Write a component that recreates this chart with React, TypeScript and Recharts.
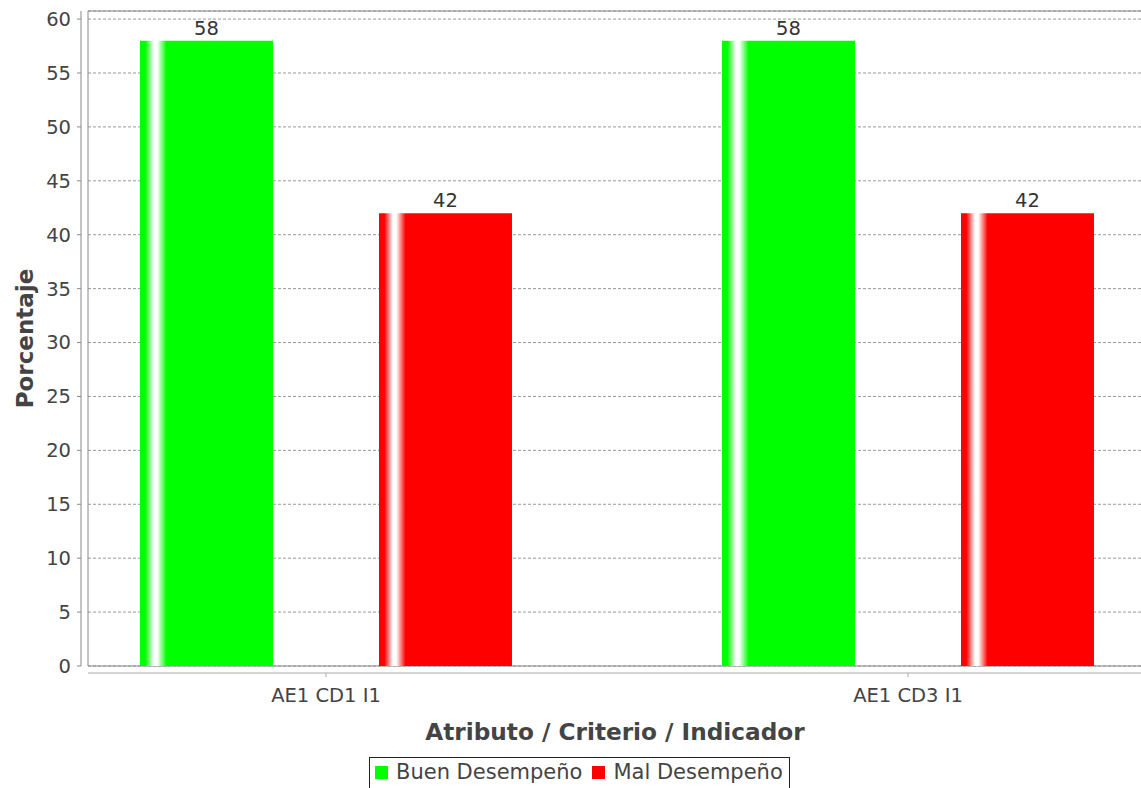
import React from 'react';
import {
  BarChart, Bar, XAxis, YAxis, CartesianGrid, ReferenceArea, LabelList, Legend,
} from 'recharts';

const categories = ['AE1 CD1 I1', 'AE1 CD3 I1'];
const buenDesempeno = [58, 58];
const malDesempeno = [42, 42];
const seriesNames = ['Buen Desempeño', 'Mal Desempeño'];
const seriesColors = ['#00ff00', '#ff0000'];
const yTicks = [0, 5, 10, 15, 20, 25, 30, 35, 40, 45, 50, 55, 60];

const data = categories.map((name, i) => ({
  pos: i,
  name,
  buen: buenDesempeno[i],
  mal: malDesempeno[i],
}));

// categories sit at 0 and 1 on a numeric axis so the outer margins match the original
const X_DOMAIN: [number, number] = [-0.4089, 1.402];
const Y_DOMAIN: [number, number] = [0, 60.75];

const FONT = '"DejaVu Sans", Verdana, sans-serif';
const TEXT = '#444444';

function Gradient({ id, color }: { id: string; color: string }) {
  return (
    <linearGradient id={id} x1="0" y1="0" x2="1" y2="0">
      <stop offset="0" stopColor={color} />
      <stop offset="0.04" stopColor={color} />
      <stop offset="0.105" stopColor="#ffffff" />
      <stop offset="0.13" stopColor="#ffffff" />
      <stop offset="0.2" stopColor={color} />
      <stop offset="1" stopColor={color} />
    </linearGradient>
  );
}

const renderLegend = () => (
  <div
    style={{
      display: 'inline-flex',
      alignItems: 'flex-start',
      border: '1px solid #222',
      height: 34,
      boxSizing: 'border-box',
      padding: '8px 6px 0 5px',
      background: '#fff',
      fontFamily: FONT,
      fontSize: 21,
      color: TEXT,
      whiteSpace: 'nowrap',
    }}
  >
    {seriesNames.map((n, i) => (
      <span key={n} style={{ display: 'inline-flex', alignItems: 'center', height: 13, marginLeft: i ? 10 : 0 }}>
        <span style={{ display: 'inline-block', width: 13, height: 13, background: seriesColors[i], marginRight: 8 }} />
        <span style={{ lineHeight: '13px' }}>{n}</span>
      </span>
    ))}
  </div>
);

export default function App() {
  return (
    <div style={{ width: 1141, height: 788, overflow: 'hidden', fontFamily: FONT, background: '#fff' }}>
      <style>{'body{margin:0}'}</style>
      <BarChart
        width={1145}
        height={788}
        data={data}
        margin={{ top: 11, right: 3, left: 0, bottom: 42 }}
        barSize={133}
        barGap={106}
      >
        <defs>
          <Gradient id="gradBuen" color={seriesColors[0]} />
          <Gradient id="gradMal" color={seriesColors[1]} />
        </defs>
        <CartesianGrid vertical={false} stroke="#999" strokeDasharray="3 2" />
        <ReferenceArea
          x1={X_DOMAIN[0]}
          x2={X_DOMAIN[1]}
          y1={Y_DOMAIN[0]}
          y2={Y_DOMAIN[1]}
          fill="none"
          fillOpacity={0}
          stroke="#888"
          strokeOpacity={1}
        />
        <XAxis
          dataKey="pos"
          type="number"
          domain={X_DOMAIN}
          allowDataOverflow
          ticks={[0, 1]}
          tickFormatter={(v: number) => categories[v] ?? ''}
          height={80}
          tickSize={4}
          tickMargin={18}
          axisLine={{ stroke: '#aaa', transform: 'translate(0,7)' }}
          tickLine={{ stroke: '#aaa', transform: 'translate(0,7)' }}
          tick={{ fill: TEXT, fontSize: 19.5 }}
          label={{
            value: 'Atributo / Criterio / Indicador',
            position: 'insideBottom',
            offset: 6,
            fill: TEXT,
            fontSize: 23.2,
            fontWeight: 'bold',
          }}
        />
        <YAxis
          type="number"
          domain={Y_DOMAIN}
          allowDataOverflow
          ticks={yTicks}
          width={88}
          tickSize={4}
          tickMargin={13}
          axisLine={{ stroke: '#888', transform: 'translate(-7,0)' }}
          tickLine={{ stroke: '#888', transform: 'translate(-7,0)' }}
          tick={{ fill: TEXT, fontSize: 19.5 }}
          label={{
            value: 'Porcentaje',
            angle: -90,
            position: 'insideLeft',
            offset: 25,
            fill: TEXT,
            fontSize: 23,
            fontWeight: 'bold',
            style: { textAnchor: 'middle' },
          }}
        />
        <Legend
          layout="horizontal"
          verticalAlign="middle"
          content={renderLegend}
          wrapperStyle={{ position: 'absolute', top: 757, left: 369, width: 'auto', height: 'auto' }}
        />
        <Bar dataKey="buen" name={seriesNames[0]} fill="url(#gradBuen)" isAnimationActive={false}>
          <LabelList dataKey="buen" position="top" offset={6} fill="#333" fontSize={19.5} />
        </Bar>
        <Bar dataKey="mal" name={seriesNames[1]} fill="url(#gradMal)" isAnimationActive={false}>
          <LabelList dataKey="mal" position="top" offset={6} fill="#333" fontSize={19.5} />
        </Bar>
      </BarChart>
    </div>
  );
}
